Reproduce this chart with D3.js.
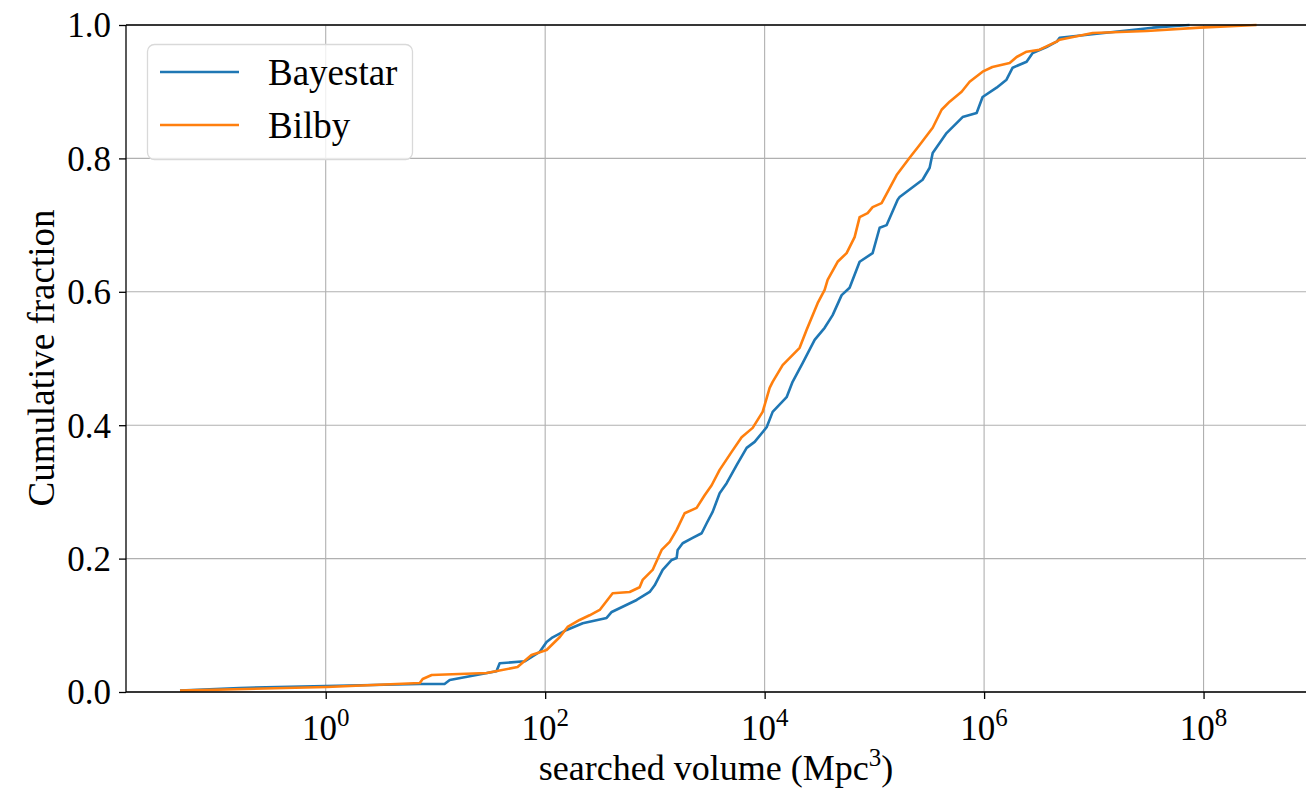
<!DOCTYPE html>
<html><head><meta charset="utf-8">
<script src="https://cdn.jsdelivr.net/npm/d3@7"></script>
<style>
body{margin:0;background:#fff;}
svg text{font-family:"Liberation Serif","Times New Roman",serif;fill:#000;}
</style></head>
<body><svg id="c" width="1306" height="790"></svg>
<script>
// Bayestar: searched volume (Mpc^3) and cumulative fraction
const bayestarVolume = [0.047,0.164,1.0,7.2,12.1,13.5,36,38.5,65,89,103,117,157,220,363,404,682,896,995,1177,1422,1579,1612,1790,2207,2667,2963,3359,3890,4506,5558,6857,8110,10430,11830,15860,17980,22190,28560,35230,41680,50330,59470,73400,96400,111700,129400,163000,170000,275000,319000,340000,455000,637000,855000,969000,1300000,1600000,1820000,2440000,2770000,3710000,4580000,4880000,34300000,74500000];
const bayestarFraction = [0.002,0.006,0.009,0.012,0.012,0.018,0.031,0.043,0.046,0.060,0.075,0.082,0.093,0.103,0.111,0.120,0.138,0.150,0.160,0.183,0.198,0.201,0.213,0.223,0.231,0.238,0.253,0.270,0.298,0.313,0.340,0.366,0.375,0.397,0.420,0.442,0.465,0.493,0.528,0.546,0.565,0.595,0.606,0.645,0.658,0.696,0.700,0.738,0.742,0.768,0.786,0.808,0.838,0.862,0.868,0.892,0.906,0.918,0.936,0.945,0.958,0.967,0.975,0.981,0.996,1.000];
// Bilby
const bilbyVolume = [0.047,1.02,7.2,7.65,9.25,29.3,56,75,103,136,160,206,254,314,412,589,726,773,953,1152,1363,1579,1866,2400,2840,3290,3890,5003,6170,7780,9590,11110,11830,14590,20840,24150,30410,35230,37500,46250,55850,66070,73400,86800,96400,116400,159500,209500,258300,340000,410000,485000,624000,738000,969000,1190000,1710000,1980000,2440000,3200000,4580000,4880000,9750000,30300000,92000000,304000000];
const bilbyFraction = [0.002,0.0075,0.0135,0.0195,0.0255,0.0285,0.0375,0.0555,0.063,0.0825,0.0975,0.108,0.115,0.123,0.148,0.150,0.157,0.168,0.183,0.213,0.225,0.243,0.268,0.276,0.295,0.310,0.333,0.360,0.382,0.396,0.420,0.456,0.465,0.490,0.516,0.543,0.583,0.603,0.618,0.645,0.658,0.682,0.712,0.718,0.727,0.733,0.775,0.801,0.820,0.846,0.873,0.885,0.900,0.915,0.930,0.937,0.943,0.952,0.960,0.963,0.975,0.978,0.988,0.991,0.996,1.000];
const xTickExponents = [0,2,4,6,8];
const yTicks = [0,0.2,0.4,0.6,0.8,1.0];
const seriesNames = ["Bayestar","Bilby"];
const seriesColors = ["#1f77b4","#ff7f0e"];

const L=126, R=1310, T=25, B=692;
const svg=d3.select("#c");
const x=d3.scaleLog().domain([Math.pow(10,-1.82),Math.pow(10,8.97)]).range([L,R]);
const y=d3.scaleLinear().domain([0,1]).range([B,T]);

const grid=svg.append("g");
xTickExponents.forEach(e=>{
  grid.append("line").attr("x1",x(Math.pow(10,e))).attr("x2",x(Math.pow(10,e)))
   .attr("y1",T).attr("y2",B).attr("stroke","#b0b0b0").attr("stroke-width",1.1);
});
yTicks.forEach(v=>{
  grid.append("line").attr("x1",L).attr("x2",R).attr("y1",y(v)).attr("y2",y(v))
   .attr("stroke","#b0b0b0").attr("stroke-width",1.1);
});

const series=[[bayestarVolume,bayestarFraction],[bilbyVolume,bilbyFraction]];
const line=d3.line().x(d=>x(d[0])).y(d=>y(d[1]));
series.forEach((s,i)=>{
  const pts=s[0].map((v,j)=>[v,s[1][j]]);
  svg.append("path").attr("d",line(pts)).attr("fill","none")
    .attr("stroke",seriesColors[i]).attr("stroke-width",2.6).attr("stroke-linejoin","round");
});

// spines
svg.append("line").attr("x1",L).attr("x2",L).attr("y1",T).attr("y2",B).attr("stroke","#000").attr("stroke-width",1.3);
svg.append("line").attr("x1",L).attr("x2",R).attr("y1",B).attr("y2",B).attr("stroke","#000").attr("stroke-width",1.3);
svg.append("line").attr("x1",L).attr("x2",R).attr("y1",T).attr("y2",T).attr("stroke","#000").attr("stroke-width",1.3);

// y axis
const yAxis=d3.axisLeft(y).tickValues(yTicks).tickFormat(d3.format(".1f")).tickSize(7).tickPadding(8);
const ga=svg.append("g").attr("transform",`translate(${L},0)`).call(yAxis);
ga.select(".domain").remove();
ga.selectAll("line").attr("stroke","#000").attr("stroke-width",1.3);
ga.selectAll("text").attr("font-size",35).attr("font-family","Liberation Serif").attr("dy","0.34em");

// x axis
const xAxis=d3.axisBottom(x).tickValues(xTickExponents.map(e=>Math.pow(10,e))).tickFormat("").tickSize(7);
const gx=svg.append("g").attr("transform",`translate(0,${B})`).call(xAxis);
gx.select(".domain").remove();
gx.selectAll("line").attr("stroke","#000").attr("stroke-width",1.3);
xTickExponents.forEach(e=>{
  const t=svg.append("text").attr("x",x(Math.pow(10,e))).attr("y",740).attr("text-anchor","middle").attr("font-size",35);
  t.append("tspan").text("10");
  t.append("tspan").attr("dy",-14).attr("font-size",25).text(String(e));
});

// axis labels
const xl=svg.append("text").attr("x",716).attr("y",780).attr("text-anchor","middle").attr("font-size",36);
xl.append("tspan").text("searched volume (Mpc");
xl.append("tspan").attr("dy",-14).attr("font-size",25).text("3");
xl.append("tspan").attr("dy",14).text(")");
svg.append("text").attr("transform","translate(54,358) rotate(-90)").attr("text-anchor","middle").attr("font-size",37).text("Cumulative fraction");

// legend
const lg=svg.append("g");
lg.append("rect").attr("x",147.5).attr("y",44.5).attr("width",265).attr("height",115).attr("rx",7)
  .attr("fill","rgba(255,255,255,0.8)").attr("stroke","#d9d9d9").attr("stroke-width",1.3);
seriesNames.forEach((n,i)=>{
  const yy=72+i*53;
  lg.append("line").attr("x1",160).attr("x2",239).attr("y1",yy).attr("y2",yy).attr("stroke",seriesColors[i]).attr("stroke-width",2.6);
  lg.append("text").attr("x",268).attr("y",yy+13).attr("font-size",37).text(n);
});
</script></body></html>
